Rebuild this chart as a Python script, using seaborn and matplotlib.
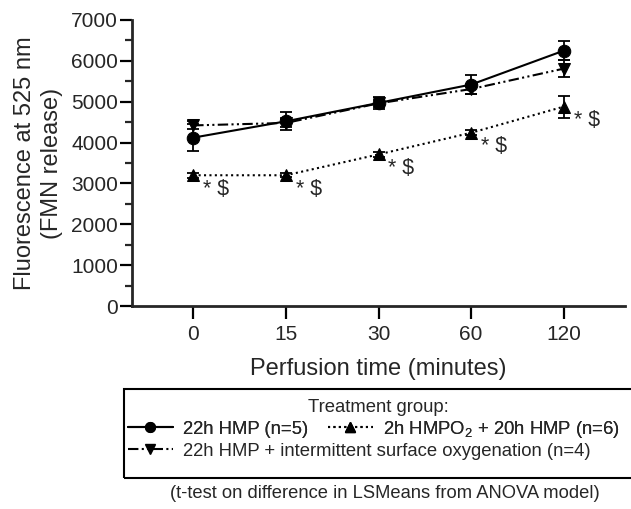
#!/usr/bin/env python3
"""FMN release during perfusion - three treatment groups"""

import numpy as np
import pandas as pd
import matplotlib
matplotlib.use('Agg')
import matplotlib.pyplot as plt
import seaborn as sns
from matplotlib.lines import Line2D
from matplotlib.patches import Rectangle
from matplotlib.ticker import MultipleLocator

# data
time_labels = ['0', '15', '30', '60', '120']
groups = ['22h HMP (n=5)', '2h HMPO$_2$ + 20h HMP (n=6)',
          '22h HMP + intermittent surface oxygenation (n=4)']
hmp_mean = [4120, 4520, 4970, 5420, 6250]
hmp_sem = [330, 220, 150, 230, 230]
hmpo2_mean = [3200, 3200, 3710, 4240, 4880]
hmpo2_sem = [60, 50, 60, 60, 270]
iso_mean = [4420, 4480, 4960, 5310, 5810]
iso_sem = [100, 90, 90, 110, 210]
sig_label = '* $'

sns.set_style('ticks')
plt.rcParams['font.family'] = ['Liberation Sans', 'DejaVu Sans']
plt.rcParams['mathtext.fontset'] = 'custom'
plt.rcParams['mathtext.rm'] = 'Liberation Sans'
plt.rcParams['mathtext.it'] = 'Liberation Sans:italic'

pos = np.arange(len(time_labels))
df = pd.DataFrame({
    'pos': np.tile(pos, 3),
    'value': hmp_mean + hmpo2_mean + iso_mean,
    'group': np.repeat(groups, len(pos)),
})

styles = {groups[0]: '', groups[1]: (1, 1.6), groups[2]: (5, 1.6, 1, 1.6, 1, 1.6)}
marks = {groups[0]: 'o', groups[1]: '^', groups[2]: 'v'}

fig = plt.figure(figsize=(6.31, 5.09), dpi=100)
ax = fig.add_axes([132 / 631, 1 - 306 / 509, 493 / 631, 286 / 509])

for m, s in [(hmp_mean, hmp_sem), (hmpo2_mean, hmpo2_sem), (iso_mean, iso_sem)]:
    ax.errorbar(pos, m, yerr=s, fmt='none', ecolor='k', elinewidth=1.3,
                capsize=4.5, capthick=1.3, zorder=2)

sns.lineplot(data=df, x='pos', y='value', hue='group', style='group',
             palette=['k'] * 3, markers=marks, dashes=styles,
             markersize=9, linewidth=1.5, markeredgecolor='k',
             legend=False, errorbar=None, ax=ax, zorder=3)

# significance marks next to the HMPO2 points
for x, y in zip(pos, hmpo2_mean):
    ax.annotate(sig_label, (x, y), xytext=(7, -10), textcoords='offset points',
                ha='left', va='center', fontsize=15.5, parse_math=False)

ax.set_xlim(-0.66, 4.66)
ax.set_ylim(0, 7000)
ax.set_xticks(pos)
ax.set_xticklabels(time_labels)
ax.yaxis.set_major_locator(MultipleLocator(1000))
ax.yaxis.set_minor_locator(MultipleLocator(500))
ax.tick_params(axis='both', labelsize=15, width=1.6, length=9, color='k')
ax.tick_params(axis='y', pad=1)
ax.tick_params(axis='x', pad=5)
ax.tick_params(axis='y', which='minor', width=1.6, length=5)
for sp in ['left', 'bottom']:
    ax.spines[sp].set_linewidth(2)
sns.despine(ax=ax)

ax.set_xlabel('Perfusion time (minutes)', fontsize=17, labelpad=10)
ax.set_ylabel('Fluorescence at 525 nm\n(FMN release)', fontsize=17, labelpad=6,
              linespacing=1.3)

# legend box (its right edge runs past the figure)
fig.patches.append(Rectangle((124 / 631, 1 - 478 / 509), 530 / 631, 89 / 509,
                             transform=fig.transFigure, fill=False, lw=1.5,
                             edgecolor='k'))
fig.text(378 / 631, 1 - 407 / 509, 'Treatment group:', ha='center', va='center',
         fontsize=13.3)
h = [Line2D([], [], color='k', lw=1.5, ls=(0, styles[g]) if styles[g] else '-',
            marker=marks[g], markersize=7) for g in groups]
leg_kw = dict(frameon=False, loc='center left', borderpad=0, handlelength=2.4,
              handletextpad=0.55, fontsize=13.3)
leg1 = fig.legend(handles=h[:2], labels=groups[:2], ncol=2, columnspacing=1.1,
                  bbox_to_anchor=(119 / 631, 1 - 429 / 509), **leg_kw)
fig.legend(handles=h[2:], labels=groups[2:],
           bbox_to_anchor=(119 / 631, 1 - 451 / 509), **leg_kw)
fig.add_artist(leg1)

fig.text(385 / 631, 1 - 494 / 509,
         '(t-test on difference in LSMeans from ANOVA model)',
         ha='center', va='center', fontsize=13.2)

fig.savefig('out.png', dpi=100)
